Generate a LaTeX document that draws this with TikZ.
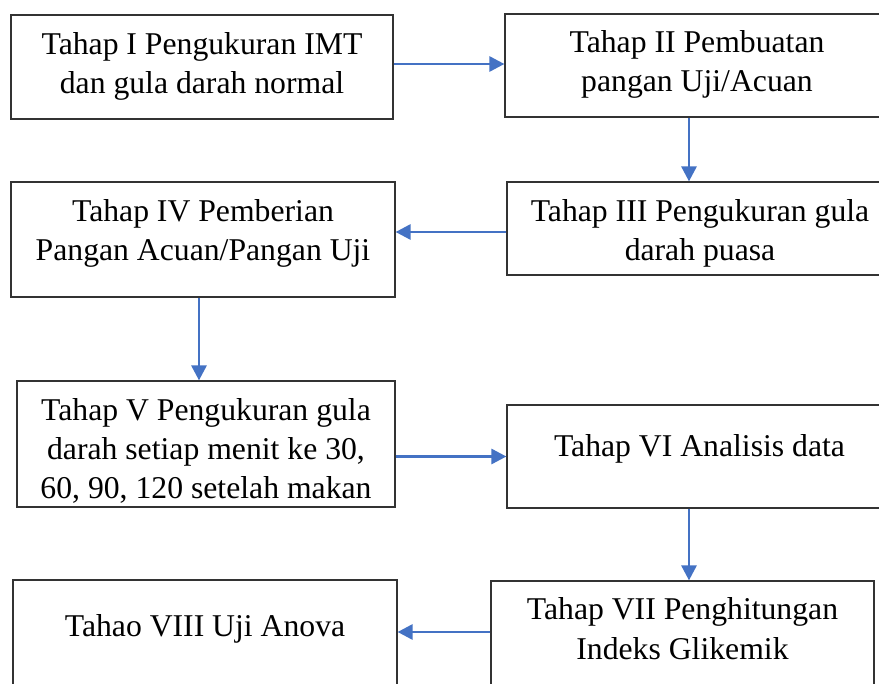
\documentclass[tikz,border=0pt]{standalone}
\usepackage{fontspec}
\setmainfont{Liberation Serif}
\usetikzlibrary{arrows.meta}
\definecolor{flowblue}{HTML}{4472C4}
\newcommand{\stagebox}[4]{\parbox[c][#2][t]{#1}{\centering\rule{0pt}{#3}#4}}
\tikzset{
  stage/.style={draw=black!80, line width=1.2pt, inner sep=0pt, fill=white,
    font=\fontsize{31.7}{39}\selectfont},
  flow/.style={draw=flowblue, line width=2.8pt, -{Triangle[length=15pt,width=15pt]}}
}
\begin{document}
\begin{tikzpicture}[x=1pt,y=-1pt]
\useasboundingbox (0,0) rectangle (879,684);
\clip (0,0) rectangle (879,684);
\fill[white] (0,0) rectangle (879,684);
\node[stage] (t1) at (202,67) {\stagebox{382pt}{104pt}{40pt}{Tahap I Pengukuran IMT\\dan gula darah normal}};
\node[stage] (t2) at (697,65.5) {\stagebox{384pt}{103pt}{39pt}{Tahap II Pembuatan\\pangan Uji/Acuan}};
\node[stage] (t3) at (700,228.5) {\stagebox{386pt}{93pt}{40pt}{Tahap III Pengukuran gula\\darah puasa}};
\node[stage] (t4) at (203,239.5) {\stagebox{384pt}{115pt}{40pt}{Tahap IV Pemberian\\Pangan Acuan/Pangan Uji}};
\node[stage] (t5) at (206,444) {\stagebox{378pt}{126pt}{40pt}{Tahap V Pengukuran gula\\darah setiap menit ke 30,\\60, 90, 120 setelah makan}};
\node[stage] (t6) at (699.5,456.5) {\stagebox{385pt}{103pt}{52pt}{Tahap VI Analisis data}};
\node[stage] (t7) at (682.5,638) {\stagebox{383pt}{114pt}{39pt}{Tahap VII Penghitungan\\Indeks Glikemik}};
\node[stage] (t8) at (205,637.5) {\stagebox{384pt}{115pt}{56pt}{Tahao VIII Uji Anova}};
% arrows between the stages
\draw[flow] ([yshift=3pt]t1.east) -- ([yshift=3pt]t1.east -| t2.west);
\draw[flow] ([xshift=-8pt]t2.south) -- ([xshift=-8pt]t2.south |- t3.north);
\draw[flow] ([yshift=-3.5pt]t3.west) -- ([yshift=-3.5pt]t3.west -| t4.east);
\draw[flow] ([xshift=-4pt]t4.south) -- ([xshift=-4pt]t4.south |- t5.north);
\draw[flow] (t5.east |- t6.west) -- (t6.west);
\draw[flow] ([xshift=-10.5pt]t6.south) -- ([xshift=-10.5pt]t6.south |- t7.north);
\draw[flow] ([yshift=6pt]t7.west) -- ([yshift=6pt]t7.west -| t8.east);
\end{tikzpicture}
\end{document}
